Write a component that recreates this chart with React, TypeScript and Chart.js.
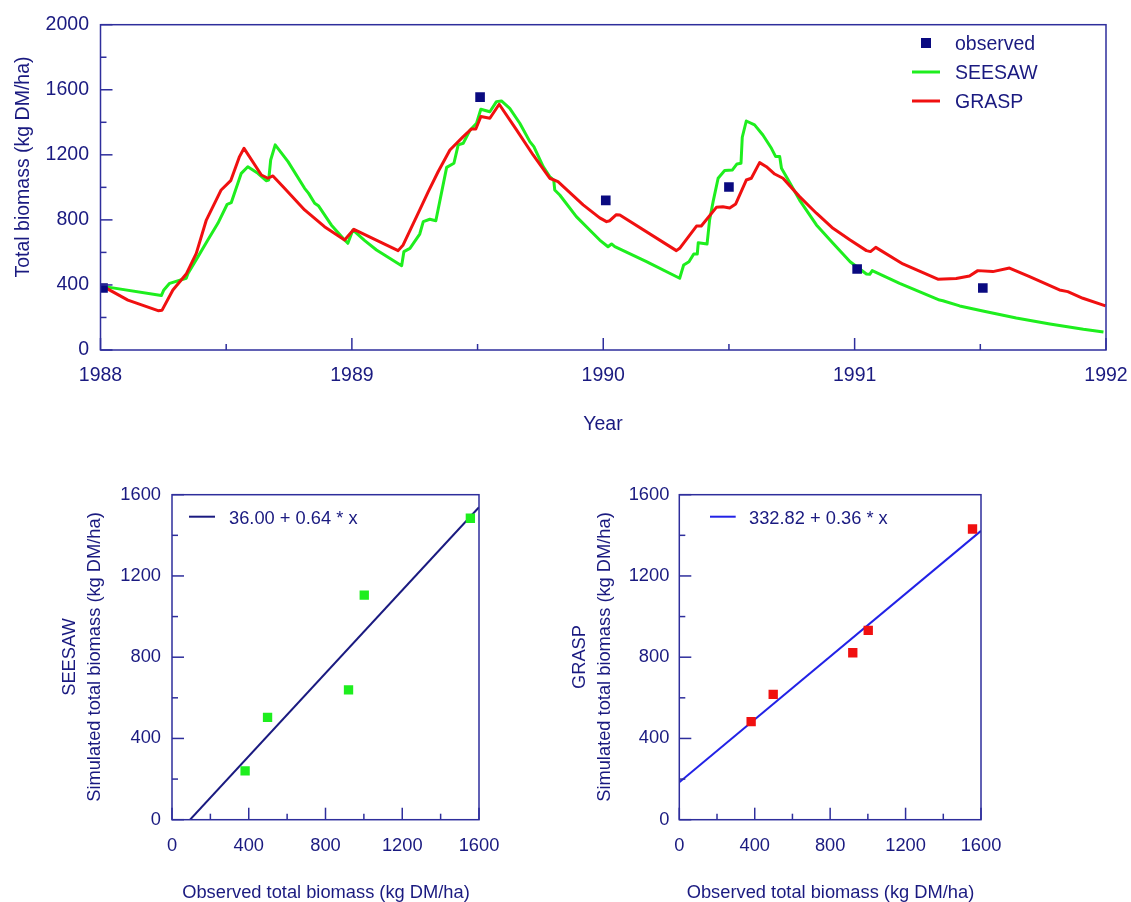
import React, { useEffect, useRef } from 'react';
import { Chart, registerables } from 'chart.js';

Chart.register(...registerables);

const FONT = '"Liberation Sans", Arial, Helvetica, sans-serif';
const TEXT = '#1a1a80';
const AXIS = '#2e2e9c';
const GREEN = '#1eee1e';
const RED = '#f01010';
const NAVY = '#0a0a80';

// ---- Top panel: time series (years, kg DM/ha) ----
const seesawT = [1988.000, 1988.023, 1988.242, 1988.252, 1988.275, 1988.341, 1988.348, 1988.388, 1988.427, 1988.467, 1988.504, 1988.520, 1988.560, 1988.586, 1988.626, 1988.659, 1988.669, 1988.677, 1988.695, 1988.746, 1988.812, 1988.828, 1988.852, 1988.868, 1988.918, 1988.971, 1988.984, 1989.004, 1989.050, 1989.098, 1989.198, 1989.207, 1989.231, 1989.270, 1989.284, 1989.310, 1989.334, 1989.377, 1989.406, 1989.423, 1989.443, 1989.469, 1989.496, 1989.513, 1989.549, 1989.575, 1989.595, 1989.628, 1989.668, 1989.708, 1989.724, 1989.761, 1989.787, 1989.803, 1989.807, 1989.827, 1989.893, 1989.946, 1989.986, 1990.019, 1990.033, 1990.046, 1990.172, 1990.304, 1990.320, 1990.341, 1990.360, 1990.374, 1990.378, 1990.413, 1990.423, 1990.437, 1990.457, 1990.483, 1990.514, 1990.532, 1990.548, 1990.553, 1990.569, 1990.602, 1990.635, 1990.669, 1990.686, 1990.702, 1990.709, 1990.728, 1990.781, 1990.848, 1990.914, 1990.982, 1991.047, 1991.060, 1991.070, 1991.179, 1991.338, 1991.351, 1991.418, 1991.510, 1991.643, 1991.777, 1991.910, 1991.990];
const seesawV = [365, 388, 335, 369, 410, 441, 471, 574, 676, 779, 896, 906, 1086, 1127, 1086, 1041, 1045, 1168, 1261, 1158, 994, 963, 902, 885, 769, 676, 656, 738, 674, 615, 518, 605, 625, 713, 789, 804, 795, 1123, 1148, 1261, 1271, 1349, 1394, 1480, 1465, 1527, 1531, 1486, 1394, 1281, 1250, 1127, 1066, 1045, 984, 953, 820, 738, 676, 635, 652, 635, 543, 441, 523, 543, 590, 590, 660, 652, 799, 912, 1056, 1103, 1107, 1144, 1148, 1308, 1408, 1384, 1322, 1240, 1189, 1189, 1117, 1066, 922, 769, 656, 543, 467, 465, 488, 410, 307, 303, 271, 240, 197, 160, 127, 111];

const graspT = [1988.000, 1988.017, 1988.109, 1988.229, 1988.245, 1988.288, 1988.341, 1988.381, 1988.421, 1988.480, 1988.518, 1988.553, 1988.571, 1988.640, 1988.666, 1988.686, 1988.732, 1988.812, 1988.891, 1988.971, 1989.008, 1989.184, 1989.204, 1989.270, 1989.304, 1989.343, 1989.390, 1989.443, 1989.476, 1989.493, 1989.513, 1989.549, 1989.586, 1989.655, 1989.721, 1989.787, 1989.820, 1989.920, 1989.986, 1990.013, 1990.026, 1990.052, 1990.066, 1990.291, 1990.304, 1990.371, 1990.390, 1990.450, 1990.476, 1990.503, 1990.527, 1990.569, 1990.589, 1990.622, 1990.649, 1990.682, 1990.715, 1990.781, 1990.848, 1990.914, 1990.982, 1991.047, 1991.063, 1991.084, 1991.192, 1991.331, 1991.404, 1991.457, 1991.490, 1991.550, 1991.616, 1991.696, 1991.815, 1991.848, 1991.908, 1991.998];
const graspV = [380, 385, 307, 242, 245, 369, 467, 594, 799, 984, 1041, 1189, 1240, 1076, 1056, 1070, 994, 861, 758, 676, 742, 611, 646, 861, 974, 1096, 1230, 1312, 1359, 1359, 1435, 1425, 1511, 1353, 1199, 1056, 1035, 892, 812, 789, 795, 832, 830, 611, 625, 762, 762, 877, 881, 873, 898, 1045, 1056, 1152, 1127, 1082, 1056, 943, 841, 748, 676, 611, 605, 631, 529, 435, 439, 455, 488, 482, 504, 451, 369, 359, 318, 271];

const obsT = [1988.01, 1989.51, 1990.01, 1990.50, 1991.01, 1991.51];
const obsV = [381, 1555, 920, 1002, 498, 381];

// ---- Bottom panels: observed vs simulated ----
const obsX = [381, 498, 920, 1002, 1555];
const seesawSim = [240, 504, 639, 1106, 1484];
const graspSim = [483, 617, 822, 932, 1431];
const seesawFitX = [94, 1600];
const seesawFitY = [0, 1538];
const graspFitX = [0, 1600];
const graspFitY = [184, 1422];
const seesawFitLabel = '36.00 + 0.64 * x';
const graspFitLabel = '332.82 + 0.36 * x';

const pts = (xs: number[], ys: number[]) => xs.map((x, i) => ({ x, y: ys[i] }));

type TextItem = { text: string; x: number; y: number; rot?: boolean; align?: CanvasTextAlign; size: number };
type LegendItem = { kind: 'rect' | 'line'; color: string; x1: number; x2: number; y: number; w?: number };
type Deco = { xMinor: number; xMajor: number; yMinor: number; yMajor: number; texts: TextItem[]; legend: LegendItem[] };

function decoPlugin(d: Deco) {
  return {
    id: 'deco',
    afterDraw(chart: any) {
      const ctx: CanvasRenderingContext2D = chart.ctx;
      const { left, right, top, bottom } = chart.chartArea;
      const xs = chart.scales.x;
      const ys = chart.scales.y;
      ctx.save();
      ctx.strokeStyle = AXIS;
      ctx.lineWidth = 1.5;
      ctx.strokeRect(left, top, right - left, bottom - top);
      const isMajor = (v: number, m: number) => Math.abs(v / m - Math.round(v / m)) < 1e-6;
      const nx = Math.round((xs.max - xs.min) / d.xMinor);
      for (let i = 0; i <= nx; i++) {
        const v = xs.min + i * d.xMinor;
        const p = xs.getPixelForValue(v);
        const len = isMajor(v, d.xMajor) ? 12 : 6;
        ctx.beginPath();
        ctx.moveTo(p, bottom);
        ctx.lineTo(p, bottom - len);
        ctx.stroke();
      }
      const ny = Math.round((ys.max - ys.min) / d.yMinor);
      for (let i = 0; i <= ny; i++) {
        const v = ys.min + i * d.yMinor;
        const p = ys.getPixelForValue(v);
        const len = isMajor(v, d.yMajor) ? 12 : 6;
        ctx.beginPath();
        ctx.moveTo(left, p);
        ctx.lineTo(left + len, p);
        ctx.stroke();
      }
      for (const l of d.legend) {
        if (l.kind === 'rect') {
          ctx.fillStyle = l.color;
          const s = l.x2 - l.x1;
          ctx.fillRect(l.x1, l.y - s / 2, s, s);
        } else {
          ctx.strokeStyle = l.color;
          ctx.lineWidth = l.w || 3;
          ctx.beginPath();
          ctx.moveTo(l.x1, l.y);
          ctx.lineTo(l.x2, l.y);
          ctx.stroke();
        }
      }
      ctx.fillStyle = TEXT;
      ctx.textBaseline = 'alphabetic';
      for (const t of d.texts) {
        ctx.font = `${t.size}px ${FONT}`;
        ctx.textAlign = t.align || 'center';
        if (t.rot) {
          ctx.save();
          ctx.translate(t.x, t.y);
          ctx.rotate(-Math.PI / 2);
          ctx.fillText(t.text, 0, 0);
          ctx.restore();
        } else {
          ctx.fillText(t.text, t.x, t.y);
        }
      }
      ctx.restore();
    },
  };
}

function axisCfg(min: number, max: number, step: number, size: number, pad: number, fit: (s: any) => void, lineHeight = 1.2) {
  return {
    type: 'linear' as const,
    min,
    max,
    afterFit: fit,
    grid: { display: false, drawTicks: false },
    border: { display: false },
    ticks: {
      stepSize: step,
      padding: pad,
      color: TEXT,
      font: { family: FONT, size, lineHeight },
      maxRotation: 0,
      autoSkip: false,
      callback: (v: any) => String(v),
    },
  };
}

function useChart(ref: React.RefObject<HTMLCanvasElement | null>, make: () => any) {
  useEffect(() => {
    if (!ref.current) return;
    const chart = new Chart(ref.current, make());
    return () => chart.destroy();
  }, []);
}

export default function App() {
  const topRef = useRef<HTMLCanvasElement>(null);
  const leftRef = useRef<HTMLCanvasElement>(null);
  const rightRef = useRef<HTMLCanvasElement>(null);

  useChart(topRef, () => ({
    type: 'scatter',
    data: {
      datasets: [
        { data: pts(obsT, obsV), pointStyle: 'rect', pointRadius: 6.8, backgroundColor: NAVY, borderWidth: 0, showLine: false },
        { data: pts(graspT, graspV), showLine: true, pointRadius: 0, borderColor: RED, borderWidth: 3, tension: 0, borderJoinStyle: 'round' },
        { data: pts(seesawT, seesawV), showLine: true, pointRadius: 0, borderColor: GREEN, borderWidth: 3, tension: 0, borderJoinStyle: 'round' },
      ],
    },
    options: {
      responsive: false,
      animation: false,
      devicePixelRatio: 1,
      layout: { padding: { top: 24.7, right: 25, left: 0, bottom: 0 } },
      plugins: { legend: { display: false }, tooltip: { enabled: false } },
      scales: {
        x: axisCfg(1988, 1992, 1, 19.5, 0, (s: any) => { s.height = 90; }, 51.4 / 19.5),
        y: axisCfg(0, 2000, 400, 19.5, 11.5, (s: any) => { s.width = 100.5; }),
      },
    },
    plugins: [decoPlugin({
      xMinor: 0.5, xMajor: 1, yMinor: 200, yMajor: 400,
      texts: [
        { text: 'Total biomass (kg DM/ha)', x: 29, y: 167, rot: true, size: 19.5 },
        { text: 'Year', x: 603, y: 430, size: 19.5 },
        { text: 'observed', x: 955, y: 50, align: 'left', size: 19.5 },
        { text: 'SEESAW', x: 955, y: 79, align: 'left', size: 19.5 },
        { text: 'GRASP', x: 955, y: 108, align: 'left', size: 19.5 },
      ],
      legend: [
        { kind: 'rect', color: NAVY, x1: 921, x2: 931, y: 43 },
        { kind: 'line', color: GREEN, x1: 912, x2: 940, y: 72 },
        { kind: 'line', color: RED, x1: 912, x2: 940, y: 101 },
      ],
    })],
  }));

  useChart(leftRef, () => ({
    type: 'scatter',
    data: {
      datasets: [
        { data: pts(obsX, seesawSim), pointStyle: 'rect', pointRadius: 6.6, backgroundColor: GREEN, borderWidth: 0, showLine: false },
        { data: pts(seesawFitX, seesawFitY), showLine: true, pointRadius: 0, borderColor: '#1a1a80', borderWidth: 2, tension: 0 },
      ],
    },
    options: {
      responsive: false,
      animation: false,
      devicePixelRatio: 1,
      layout: { padding: { top: 24.7, right: 81, left: 0, bottom: 0 } },
      plugins: { legend: { display: false }, tooltip: { enabled: false } },
      scales: {
        x: axisCfg(0, 1600, 400, 18.3, 15, (s: any) => { s.height = 82.3; }),
        y: axisCfg(0, 1600, 400, 18.3, 11, (s: any) => { s.width = 172; }),
      },
    },
    plugins: [decoPlugin({
      xMinor: 200, xMajor: 400, yMinor: 200, yMajor: 400,
      texts: [
        { text: 'SEESAW', x: 75, y: 187, rot: true, size: 18.3 },
        { text: 'Simulated total biomass (kg DM/ha)', x: 100, y: 187, rot: true, size: 18.3 },
        { text: 'Observed total biomass (kg DM/ha)', x: 326, y: 428, size: 18.3 },
        { text: seesawFitLabel, x: 229, y: 54, align: 'left', size: 18.3 },
      ],
      legend: [
        { kind: 'line', color: '#1a1a80', x1: 189, x2: 215, y: 46.7, w: 2 },
      ],
    })],
  }));

  useChart(rightRef, () => ({
    type: 'scatter',
    data: {
      datasets: [
        { data: pts(obsX, graspSim), pointStyle: 'rect', pointRadius: 6.6, backgroundColor: RED, borderWidth: 0, showLine: false },
        { data: pts(graspFitX, graspFitY), showLine: true, pointRadius: 0, borderColor: '#2222e6', borderWidth: 2, tension: 0 },
      ],
    },
    options: {
      responsive: false,
      animation: false,
      devicePixelRatio: 1,
      layout: { padding: { top: 24.7, right: 150, left: 0, bottom: 0 } },
      plugins: { legend: { display: false }, tooltip: { enabled: false } },
      scales: {
        x: axisCfg(0, 1600, 400, 18.3, 15, (s: any) => { s.height = 82.3; }),
        y: axisCfg(0, 1600, 400, 18.3, 10, (s: any) => { s.width = 119.3; }),
      },
    },
    plugins: [decoPlugin({
      xMinor: 200, xMajor: 400, yMinor: 200, yMajor: 400,
      texts: [
        { text: 'GRASP', x: 25, y: 187, rot: true, size: 18.3 },
        { text: 'Simulated total biomass (kg DM/ha)', x: 50, y: 187, rot: true, size: 18.3 },
        { text: 'Observed total biomass (kg DM/ha)', x: 270.5, y: 428, size: 18.3 },
        { text: graspFitLabel, x: 189, y: 54, align: 'left', size: 18.3 },
      ],
      legend: [
        { kind: 'line', color: '#2222e6', x1: 150, x2: 175.7, y: 46.7, w: 2 },
      ],
    })],
  }));

  return (
    <div style={{ position: 'absolute', left: 0, top: 0, width: 1131, height: 902, background: '#fff', overflow: 'hidden' }}>
      <canvas ref={topRef} width={1131} height={440} style={{ position: 'absolute', left: 0, top: 0, display: 'block' }} />
      <canvas ref={leftRef} width={560} height={432} style={{ position: 'absolute', left: 0, top: 470, display: 'block' }} />
      <canvas ref={rightRef} width={571} height={432} style={{ position: 'absolute', left: 560, top: 470, display: 'block' }} />
    </div>
  );
}
